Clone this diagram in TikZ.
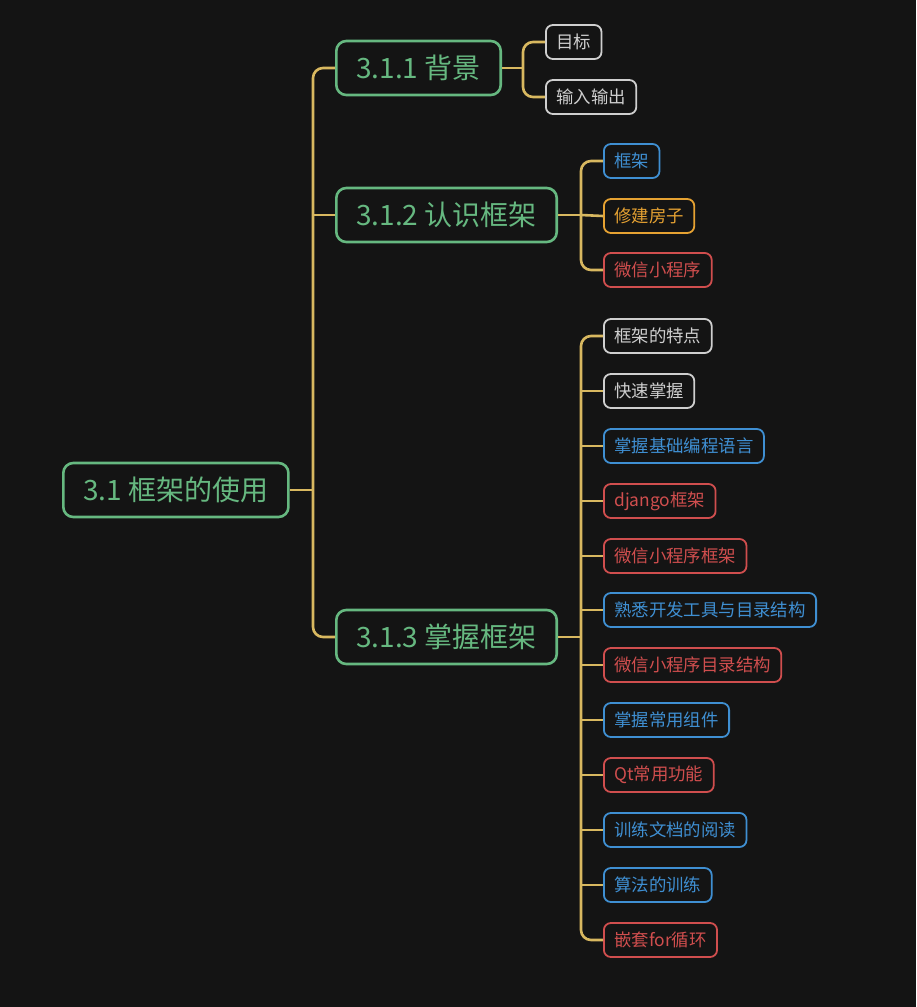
\documentclass[tikz,border=0pt]{standalone}
\usepackage{fontspec}
\newfontfamily\cjk{Noto Sans CJK SC}
\definecolor{bg}{HTML}{141414}
\definecolor{mgreen}{HTML}{66B880}
\definecolor{myellow}{HTML}{D8B860}
\definecolor{mgrey}{HTML}{CFCFCF}
\definecolor{mblue}{HTML}{3F8FD2}
\definecolor{morange}{HTML}{E6A232}
\definecolor{mred}{HTML}{D04E4E}
\tikzset{
  big/.style={draw=mgreen, text=mgreen, line width=2.6pt, rounded corners=10pt, anchor=west,
    minimum height=54pt, inner xsep=20pt, font=\cjk\fontsize{28}{34}\selectfont},
  small/.style={draw=#1, text=#1, line width=1.8pt, rounded corners=7pt, anchor=west,
    minimum height=34pt, inner xsep=10.4pt, font=\cjk\fontsize{17.4}{20}\selectfont},
  conn/.style={draw=myellow, line width=2.6pt, rounded corners=10pt},
}
\begin{document}
\begin{tikzpicture}[x=1pt,y=-1pt]
\fill[bg] (0,0) rectangle (916,1007);
\useasboundingbox (0,0) rectangle (916,1007);
% root
\node[big] (root) at (62,490) {3.1 框架的使用};
\node[big] (a) at (335,68) {3.1.1 背景};
\node[big] (b) at (335,215) {3.1.2 认识框架};
\node[big] (c) at (335,637) {3.1.3 掌握框架};
% 3.1.1 children
\node[small=mgrey] (a1) at (545,42) {目标};
\node[small=mgrey] (a2) at (545,97) {输入输出};
% 3.1.2 children
\node[small=mblue] (b1) at (603,161) {框架};
\node[small=morange] (b2) at (603,216) {修建房子};
\node[small=mred] (b3) at (603,270) {微信小程序};
% 3.1.3 children
\node[small=mgrey] (c1) at (603,336) {框架的特点};
\node[small=mgrey] (c2) at (603,391) {快速掌握};
\node[small=mblue] (c3) at (603,446) {掌握基础编程语言};
\node[small=mred] (c4) at (603,501) {django框架};
\node[small=mred] (c5) at (603,556) {微信小程序框架};
\node[small=mblue] (c6) at (603,610) {熟悉开发工具与目录结构};
\node[small=mred] (c7) at (603,665) {微信小程序目录结构};
\node[small=mblue] (c8) at (603,720) {掌握常用组件};
\node[small=mred] (c9) at (603,775) {Qt常用功能};
\node[small=mblue] (c10) at (603,830) {训练文档的阅读};
\node[small=mblue] (c11) at (603,885) {算法的训练};
\node[small=mred] (c12) at (603,940) {嵌套for循环};
% junctions
\coordinate (j0) at (313,490);
\coordinate (ja) at (523,68);
\coordinate (jb) at (581,215);
\coordinate (jc) at (581,637);
% root connectors
\draw[conn] (root.east) -- (j0);
\draw[conn] (a.west) -| (j0) |- (c.west);
\draw[conn] (j0 |- b.west) -- (b.west);
% 3.1.1
\draw[conn] (a.east) -- (ja);
\draw[conn] (a1.west) -| (ja) |- (a2.west);
% 3.1.2
\draw[conn] (b.east) -- (jb);
\draw[conn] (b1.west) -| (jb) |- (b3.west);
\draw[conn] (jb) -- (b2.west);
% 3.1.3
\draw[conn] (c.east) -- (jc);
\draw[conn] (c1.west) -| (jc) |- (c12.west);
\foreach \i in {2,...,11} {
  \draw[conn] (jc |- c\i.west) -- (c\i.west);
}
\end{tikzpicture}
\end{document}
